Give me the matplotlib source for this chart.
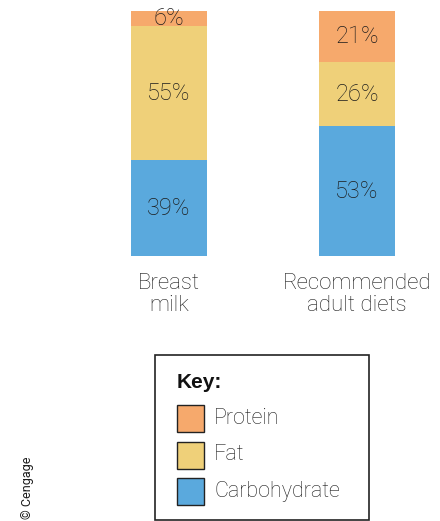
import matplotlib
matplotlib.use("Agg")
import matplotlib.pyplot as plt
from matplotlib.patches import Rectangle

# Energy sources as percent of calories
categories = ["Breast\nmilk", "Recommended\nadult diets"]
nutrients = ["Protein", "Fat", "Carbohydrate"]
carbohydrate = [39, 53]
fat = [55, 26]
protein = [6, 21]

colors = {"Carbohydrate": "#5aa9dd", "Fat": "#efd079", "Protein": "#f6a96c"}
text_color = "#1c1c1c"
font = "Roboto"
light = "light"

W, H = 440, 521
fig = plt.figure(figsize=(W / 100, H / 100), dpi=100)

# Bar axes: y from 0 to 100 spans pixel rows 256..11
ax = fig.add_axes([0, (H - 256) / H, 1, 245 / H])
x = [0, 1]
bar_w = 76 / 188
ax.set_xlim(-169 / 188, (W - 169) / 188)
ax.set_ylim(0, 100)

stack = [("Carbohydrate", carbohydrate), ("Fat", fat), ("Protein", protein)]
bottom = [0, 0]
for name, vals in stack:
    ax.bar(x, vals, bar_w, bottom=bottom, color=colors[name], linewidth=0)
    for xi, b, v in zip(x, bottom, vals):
        ax.text(xi, b + v / 2, f"{v}%", ha="center", va="center",
                fontsize=17, family=font, weight=light, color=text_color)
    bottom = [b + v for b, v in zip(bottom, vals)]

ax.set_xticks(x, categories)
ax.tick_params(axis="x", length=0, pad=12, labelsize=16, labelcolor=text_color)
for lbl in ax.get_xticklabels():
    lbl.set_family(font)
    lbl.set_weight(light)
    lbl.set_linespacing(1.1)
ax.set_yticks([])
for s in ax.spines.values():
    s.set_visible(False)
ax.patch.set_alpha(0)

# Key box drawn in pixel coordinates
kx = fig.add_axes([0, 0, 1, 1])
kx.set_xlim(0, W)
kx.set_ylim(H, 0)
kx.axis("off")
kx.patch.set_alpha(0)
kx.add_patch(Rectangle((155, 355), 214, 165, fill=False, edgecolor="#222222", linewidth=1.2))
kx.text(177, 382, "Key:", fontsize=15, fontweight="bold", family="Liberation Sans",
        color="#111111", va="center", ha="left")
for i, name in enumerate(nutrients):
    y0 = 405 + i * 36.5
    kx.add_patch(Rectangle((177, y0), 27, 27, facecolor=colors[name],
                           edgecolor="#222222", linewidth=1.0))
    kx.text(214, y0 + 13.5, name, fontsize=15.5, family=font, weight=light,
            color=text_color, va="center", ha="left")

kx.text(27, 488, "© Cengage", rotation=90, fontsize=9, family=font,
        color=text_color, ha="center", va="center")

fig.savefig("out.png", dpi=100)
